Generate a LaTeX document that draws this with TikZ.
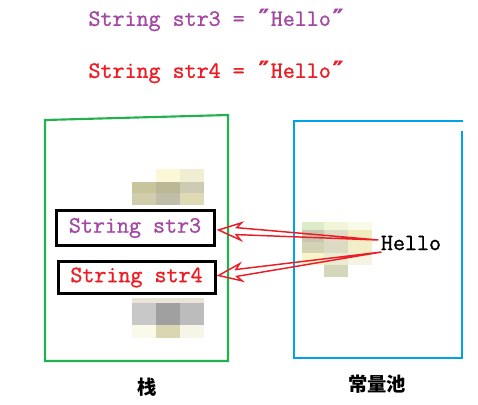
\documentclass[tikz,border=0pt]{standalone}
\usepackage{fontspec}
\usetikzlibrary{calc}
\newfontfamily\cjkfont{Noto Sans CJK SC}
\newfontfamily\primefont[FakeBold=1]{DejaVu Sans Mono}
\newfontfamily\codefont[FakeBold=1.2]{Latin Modern Mono}
\newcommand{\dprime}{{\primefont\bfseries ″}}

\tikzset{every picture/.style={line width=0.75pt}}
\tikzset{
  codetext/.style={font=\fontsize{17.5}{20}\selectfont\codefont\bfseries, inner sep=0.75pt},
  varbox/.style={codetext, draw=black, line width=2.25pt, inner sep=0pt},
  hollowarrow/.style={draw={rgb, 255:red, 237; green, 28; blue, 36}, line width=1.1pt, line join=miter},
  patch/.style={draw=none},
  hanzi/.style={font=\cjkfont\bfseries\fontsize{14.5}{17}\selectfont, inner sep=0.75pt},
}
% outline of a tapered block arrow from #1 (tail) to #2 (tip)
\newcommand{\blockarrow}[2]{%
  \draw[hollowarrow] (#2) -- ($(#2)!17pt!(#1)!6.5pt!90:(#1)$) -- ($(#2)!13.5pt!(#1)!2.6pt!90:(#1)$) -- (#1)
    -- ($(#2)!13.5pt!(#1)!2.6pt!-90:(#1)$) -- ($(#2)!17pt!(#1)!6.5pt!-90:(#1)$) -- cycle;}

\begin{document}
\begin{tikzpicture}[x=0.75pt,y=0.75pt,yscale=-1,xscale=1]
\path (0,0) rectangle (478,404);

%Mosaic patches
\foreach \x/\y/\w/\h/\r/\g/\b in {156/169/24/13/250/248/215, 180/169/24/13/240/238/210,
    132/182/24/11/200/196/155, 156/182/24/11/188/184/150, 180/182/24/11/205/203/180,
    132/193/24/12/208/204/172, 156/193/24/12/192/190/168, 180/193/24/12/222/218/182,
    132/298/72/5/235/228/215,
    132/303/24/22/200/200/200, 156/303/24/22/160/160/160, 180/303/24/22/188/188/188,
    132/325/24/13/250/250/235, 156/325/24/13/218/214/178, 180/325/24/13/245/245/232,
    302/222/22/8/220/235/200, 324/222/24/8/240/245/215, 348/222/24/8/250/250/235,
    302/230/22/12/200/198/175, 324/230/24/12/222/220/198, 348/230/24/12/240/236/190,
    302/242/22/11/212/210/180, 324/242/24/11/220/218/195, 348/242/24/11/242/238/200,
    302/253/22/12/250/245/200, 324/253/24/12/235/235/210, 348/253/24/12/245/243/225,
    324/265/24/12/212/215/185}
  \fill[patch, fill={rgb, 255:red, \r; green, \g; blue, \b}] (\x,\y) rectangle ++(\w,\h);

%Stack frame
\draw [color={rgb, 255:red, 34; green, 177; blue, 76 }, line width=1.6pt]  (45,120) -- (228,115) -- (228,361) -- (45,361) -- cycle ;
%Constant pool frame
\draw [color={rgb, 255:red, 0; green, 162; blue, 232 }, line width=1.6pt]  (463,121) -- (294,121) -- (294,358) -- (462,358) -- (462,131) ;

% Text Node
\node [codetext, anchor=west, text={rgb, 255:red, 163; green, 73; blue, 164}] (code3) at (87,20) {String str3 = \dprime Hello\dprime};
% Text Node
\node [codetext, anchor=west, text={rgb, 255:red, 237; green, 28; blue, 36}] (code4) at (87,72) {String str4 = \dprime Hello\dprime};

% Variable boxes
\node [varbox, minimum width=158*0.75pt, minimum height=35*0.75pt, text={rgb, 255:red, 163; green, 73; blue, 164}] (s3) at (135,228) {String str3};
\node [varbox, minimum width=157*0.75pt, minimum height=32*0.75pt, text={rgb, 255:red, 237; green, 28; blue, 36}] (s4) at (136.5,277.5) {String str4};

% Text Node
\node [codetext] (hello) at (411,243) {Hello};

% Block arrows
\coordinate (tip3) at ($(s3.east)+(3,2)$);
\coordinate (tip4) at ($(s4.east)+(2,-2)$);
\coordinate (tail3) at ($(hello.west)+(-1,-3)$);
\coordinate (tail4) at ($(hello.west)+(2,9)$);
\blockarrow{tail3}{tip3}
\blockarrow{tail4}{tip4}

% Text Node
\node [hanzi] (stack) at (147,387) {栈};
% Text Node
\node [hanzi] (pool) at (377,384) {常量池};

\end{tikzpicture}
\end{document}
